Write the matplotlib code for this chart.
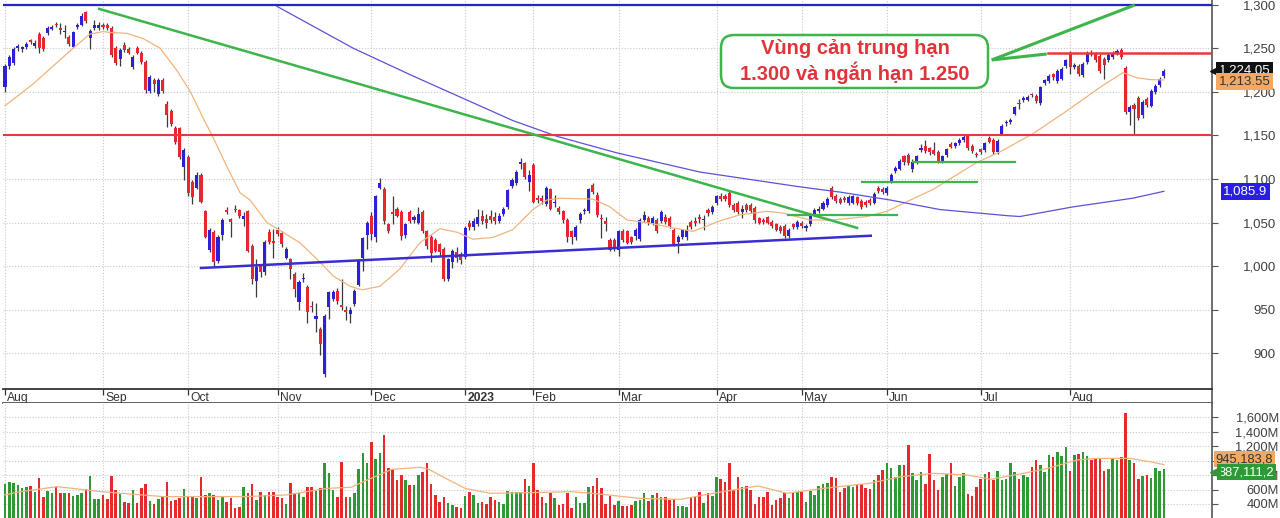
import numpy as np
import matplotlib
matplotlib.use("Agg")
import matplotlib.pyplot as plt
import matplotlib.transforms as mtransforms
from matplotlib.patches import FancyBboxPatch

plt.rcParams['font.family'] = ['Liberation Sans', 'DejaVu Sans']

# ---- data ----
MONTH_POS = [0, 23, 43, 64, 86, 108, 124, 144, 167, 187, 207, 229, 250]
MONTH_LBL = ["Aug", "Sep", "Oct", "Nov", "Dec", "2023", "Feb", "Mar", "Apr", "May", "Jun", "Jul", "Aug"]

opens = [
    1206, 1230, 1233, 1250, 1249, 1251, 1259, 1252, 1266, 1262, 1267, 1272, 1278, 1272, 1268, 1263, 1251, 1274, 1277, 1291, 1262, 1273, 1273,  # Aug
    1277, 1277, 1273, 1250, 1238, 1254, 1249, 1228, 1250, 1245, 1234, 1201, 1214, 1197, 1214, 1186, 1178, 1159, 1158, 1114,  # Sep
    1125, 1097, 1090, 1105, 1063, 1019, 1039, 1006, 1036, 1064, 1054, 1066, 1064, 1054, 1063, 1023, 983, 1000, 993, 1039, 1028,  # Oct
    1042, 1038, 1010, 1008, 991, 959, 985, 976, 955, 940, 928, 877, 953, 963, 972, 956, 950, 945, 957, 979, 1010, 1036,  # Nov
    1058, 1033, 1090, 1089, 1048, 1062, 1066, 1062, 1036, 1062, 1053, 1050, 1062, 1040, 1034, 1030, 1025, 1020, 985, 1005, 1016, 1014,  # Dec
    1011, 1050, 1045, 1048, 1058, 1054, 1058, 1056, 1052, 1060, 1068, 1092, 1095, 1117, 1118, 1097,  # Jan
    1116, 1078, 1078, 1071, 1088, 1072, 1067, 1063, 1053, 1040, 1033, 1053, 1063, 1063, 1093, 1082, 1055, 1052, 1030, 1030,  # Feb
    1019, 1040, 1040, 1033, 1035, 1031, 1053, 1055, 1050, 1053, 1052, 1057, 1055, 1042, 1028, 1033, 1033, 1051, 1052, 1057, 1053, 1065, 1062,  # Mar
    1073, 1081, 1081, 1084, 1070, 1073, 1062, 1070, 1070, 1067, 1055, 1053, 1056, 1051, 1048, 1045, 1046, 1035, 1048,  # Apr
    1045, 1050, 1044, 1048, 1060, 1063, 1066, 1070, 1090, 1081, 1077, 1078, 1072, 1073, 1079, 1075, 1074, 1076, 1073, 1090,  # May
    1089, 1084, 1097, 1109, 1112, 1126, 1128, 1112, 1119, 1133, 1138, 1135, 1133, 1131, 1120, 1127, 1140, 1138, 1141, 1145, 1150, 1138,  # Jun
    1128, 1134, 1133, 1147, 1145, 1131, 1152, 1164, 1165, 1175, 1187, 1190, 1191, 1197, 1195, 1187, 1210, 1212, 1220, 1212, 1215,  # Jul
    1229, 1244, 1228, 1230, 1219, 1234, 1245, 1244, 1241, 1238, 1236, 1240, 1244, 1248, 1227, 1177, 1185, 1193, 1173, 1192, 1184, 1200, 1208, 1218,  # Aug
]
highs = [
    1232, 1242, 1251, 1255, 1253, 1257, 1261, 1259, 1268, 1264, 1275, 1276, 1280, 1279, 1276, 1265, 1270, 1279, 1290, 1293, 1272, 1282, 1280,
    1279, 1279, 1275, 1252, 1250, 1257, 1251, 1242, 1252, 1247, 1236, 1219, 1216, 1216, 1216, 1189, 1180, 1161, 1160, 1135,
    1127, 1099, 1108, 1107, 1065, 1044, 1041, 1036, 1055, 1068, 1055, 1070, 1066, 1062, 1065, 1025, 1008, 1003, 1030, 1043, 1043,
    1045, 1040, 1022, 1010, 993, 984, 992, 978, 960, 958, 930, 945, 972, 973, 975, 985, 955, 953, 974, 1008, 1034, 1052,
    1062, 1082, 1101, 1091, 1050, 1080, 1068, 1064, 1050, 1064, 1059, 1068, 1064, 1042, 1036, 1032, 1027, 1022, 1010, 1020, 1022, 1016,
    1046, 1053, 1055, 1066, 1064, 1060, 1064, 1062, 1061, 1068, 1089, 1101, 1110, 1124, 1120, 1110,
    1118, 1082, 1082, 1092, 1090, 1082, 1069, 1065, 1055, 1042, 1047, 1062, 1067, 1090, 1096, 1085, 1060, 1056, 1032, 1032,
    1042, 1043, 1042, 1035, 1044, 1055, 1063, 1058, 1058, 1055, 1064, 1060, 1058, 1044, 1036, 1043, 1047, 1053, 1056, 1060, 1059, 1067, 1070,
    1082, 1084, 1083, 1086, 1072, 1075, 1070, 1072, 1072, 1069, 1057, 1055, 1058, 1053, 1050, 1047, 1048, 1044, 1050,
    1053, 1052, 1048, 1061, 1067, 1069, 1075, 1079, 1092, 1083, 1079, 1080, 1082, 1082, 1081, 1077, 1076, 1078, 1085, 1092,
    1091, 1092, 1107, 1115, 1123, 1128, 1130, 1123, 1128, 1140, 1145, 1137, 1143, 1133, 1128, 1136, 1142, 1143, 1147, 1150, 1152, 1140,
    1131, 1136, 1143, 1149, 1147, 1146, 1163, 1168, 1170, 1184, 1192, 1195, 1196, 1199, 1197, 1207, 1215, 1220, 1222, 1226, 1228,
    1238, 1247, 1233, 1232, 1234, 1247, 1248, 1246, 1243, 1240, 1244, 1247, 1249, 1250, 1229, 1185, 1187, 1195, 1191, 1194, 1203, 1209, 1217, 1226,
]
lows = [
    1200, 1226, 1231, 1247, 1246, 1249, 1255, 1250, 1244, 1247, 1265, 1271, 1274, 1266, 1262, 1253, 1250, 1272, 1275, 1279, 1249, 1271, 1271,
    1272, 1271, 1240, 1231, 1229, 1246, 1243, 1226, 1243, 1232, 1199, 1199, 1200, 1195, 1199, 1160, 1161, 1140, 1123, 1099,
    1080, 1071, 1088, 1072, 1032, 1016, 999, 1004, 1030, 1060, 1034, 1062, 1055, 1046, 1016, 980, 965, 988, 990, 1026, 1010,
    1035, 1022, 1008, 985, 965, 950, 982, 935, 948, 925, 898, 873, 940, 960, 957, 950, 938, 935, 955, 977, 995, 1020,
    1030, 1028, 1088, 1048, 1038, 1048, 1056, 1030, 1032, 1050, 1050, 1048, 1038, 1020, 1005, 1016, 1012, 983, 983, 998, 1005, 1003,
    1008, 1042, 1042, 1046, 1049, 1044, 1050, 1048, 1050, 1058, 1066, 1090, 1093, 1112, 1100, 1086,
    1072, 1072, 1071, 1069, 1064, 1068, 1060, 1050, 1028, 1025, 1030, 1050, 1060, 1061, 1083, 1057, 1032, 1040, 1017, 1017,
    1012, 1028, 1025, 1026, 1030, 1029, 1051, 1047, 1047, 1038, 1050, 1049, 1044, 1023, 1015, 1031, 1030, 1043, 1046, 1050, 1042, 1058, 1060,
    1070, 1075, 1075, 1068, 1062, 1060, 1055, 1062, 1061, 1050, 1048, 1048, 1048, 1044, 1040, 1038, 1032, 1032, 1043,
    1043, 1044, 1040, 1046, 1058, 1061, 1064, 1068, 1077, 1073, 1071, 1074, 1070, 1071, 1070, 1066, 1068, 1070, 1071, 1084,
    1083, 1082, 1095, 1107, 1110, 1116, 1116, 1108, 1117, 1131, 1130, 1128, 1127, 1118, 1118, 1125, 1135, 1136, 1139, 1143, 1133, 1130,
    1125, 1129, 1131, 1141, 1129, 1129, 1150, 1161, 1163, 1173, 1180, 1188, 1189, 1194, 1187, 1185, 1208, 1210, 1214, 1210, 1213,
    1227, 1220, 1226, 1218, 1217, 1232, 1241, 1234, 1222, 1215, 1234, 1238, 1242, 1238, 1175, 1162, 1150, 1168, 1170, 1182, 1182, 1198, 1206, 1216,
]
closes = [
    1230, 1240, 1249, 1253, 1251, 1255, 1257, 1256, 1250, 1249, 1273, 1274, 1276, 1271, 1270, 1255, 1269, 1277, 1287, 1281, 1270, 1276, 1276,
    1274, 1273, 1242, 1233, 1248, 1248, 1245, 1240, 1245, 1234, 1202, 1217, 1209, 1214, 1201, 1173, 1163, 1142, 1125, 1133,
    1084, 1079, 1105, 1074, 1034, 1042, 1005, 1034, 1053, 1062, 1051, 1064, 1058, 1058, 1018, 985, 999, 993, 1028, 1028, 1027,
    1037, 1025, 1020, 997, 974, 982, 987, 948, 953, 943, 911, 943, 970, 970, 960, 953, 947, 950, 972, 1006, 1032, 1050,
    1037, 1080, 1095, 1052, 1040, 1060, 1058, 1035, 1048, 1052, 1057, 1060, 1040, 1023, 1015, 1018, 1016, 985, 1008, 1018, 1010, 1007,
    1044, 1045, 1052, 1056, 1052, 1050, 1053, 1052, 1058, 1066, 1087, 1099, 1108, 1119, 1102, 1105,
    1074, 1076, 1075, 1090, 1066, 1074, 1062, 1053, 1033, 1033, 1045, 1060, 1064, 1088, 1085, 1059, 1054, 1048, 1019, 1020,
    1040, 1030, 1027, 1028, 1042, 1053, 1059, 1050, 1055, 1040, 1062, 1051, 1046, 1025, 1034, 1041, 1042, 1045, 1050, 1054, 1054, 1061, 1068,
    1080, 1077, 1077, 1070, 1065, 1062, 1066, 1064, 1063, 1053, 1050, 1051, 1050, 1046, 1042, 1040, 1035, 1042, 1045,
    1051, 1046, 1045, 1059, 1065, 1066, 1072, 1077, 1079, 1075, 1073, 1076, 1079, 1080, 1072, 1068, 1070, 1072, 1083, 1086,
    1085, 1090, 1105, 1113, 1121, 1120, 1118, 1120, 1126, 1136, 1132, 1131, 1129, 1120, 1126, 1134, 1137, 1141, 1145, 1148, 1135, 1132,
    1127, 1131, 1141, 1143, 1131, 1144, 1161, 1165, 1168, 1182, 1186, 1193, 1194, 1196, 1189, 1205, 1213, 1218, 1217, 1224, 1226,
    1236, 1228, 1231, 1220, 1232, 1245, 1243, 1236, 1224, 1231, 1242, 1244, 1247, 1240, 1177, 1182, 1180, 1170, 1188, 1185, 1201, 1207, 1215, 1224.05,
]
volumes = [  # million shares
    677, 709, 686, 663, 617, 640, 649, 571, 760, 502, 580, 557, 640, 557, 557, 548, 511, 525, 548, 603, 788, 465, 465,
    520, 470, 790, 600, 540, 430, 420, 600, 410, 620, 680, 440, 400, 470, 500, 700, 440, 460, 480, 610,
    502, 502, 479, 778, 525, 548, 525, 455, 492, 432, 479, 340, 363, 640, 548, 677, 455, 571, 525, 571, 571,
    502, 479, 400, 686, 548, 548, 502, 640, 640, 585, 620, 963, 825, 594, 502, 986, 502, 492, 548, 880, 1101, 963,
    1263, 1018, 1111, 1355, 894, 880, 732, 802, 732, 663, 663, 802, 848, 963, 677, 525, 432, 502, 409, 386, 363, 340,
    511, 571, 525, 409, 432, 400, 502, 455, 432, 400, 585, 571, 571, 571, 746, 649,
    972, 594, 502, 409, 548, 478, 386, 400, 548, 340, 492, 409, 418, 631, 649, 755, 617, 400, 511, 386,
    446, 372, 372, 386, 446, 455, 548, 446, 525, 548, 492, 492, 455, 465, 372, 372, 363, 502, 502, 571, 409, 548, 511,
    778, 746, 700, 963, 594, 778, 640, 649, 594, 400, 502, 502, 571, 386, 455, 478, 548, 478, 571,
    571, 571, 432, 585, 525, 649, 677, 686, 778, 755, 571, 617, 649, 631, 663, 672, 617, 603, 732, 802,
    871, 963, 894, 778, 940, 940, 1217, 834, 732, 848, 677, 1092, 732, 594, 778, 811, 963, 649, 769, 834, 538, 515,
    640, 742, 811, 848, 732, 862, 732, 742, 972, 848, 742, 802, 778, 908, 1009, 940, 848, 1078, 1046, 1125, 1060,
    1194, 862, 1078, 1092, 1125, 1060, 1009, 1018, 1032, 862, 880, 1032, 1009, 1050, 1655, 1009, 972, 742, 788, 802, 755, 894, 862, 887.1112,
]

# moving averages (session index, value)
ma20_x = [0, 6.6, 16, 19.9, 23, 24.6, 28.6, 32.4, 36.4, 40.4, 43.4, 46.5, 48.8, 52.1, 55.2, 57.5, 61.5, 62.9,
          69.2, 73.9, 77, 81, 83.8, 88, 92.7, 97.4, 102.1, 106.1, 109.8, 114.5, 119.2, 123.9, 127.2, 130.3,
          138, 142, 146, 150.7, 156.8, 161.5, 167.8, 172.5, 178.8, 182.6, 188.9, 194.3, 202.3, 207, 211.7,
          217.8, 224.1, 228.1, 233.5, 241.3, 249.2, 257, 262.4, 265.7, 268.7, 272]
ma20_y = [1184, 1209, 1250, 1266, 1269, 1268, 1267, 1261, 1250, 1224, 1201, 1170, 1148, 1114, 1084, 1076, 1050, 1046,
          1027, 1005, 989, 977, 973, 977, 997, 1027, 1043, 1039, 1031, 1033, 1042, 1065, 1076, 1078,
          1077, 1068, 1053, 1050, 1044, 1040, 1052, 1059, 1063, 1061, 1053, 1053, 1057, 1063, 1074,
          1088, 1107, 1119, 1131, 1152, 1178, 1205, 1222, 1216, 1214, 1213.55]
ma200_x = [63.8, 81.7, 95.8, 119.2, 129.5, 143.6, 163.1, 186.6, 196, 207.7, 219.4, 235.2, 238.2, 250.6, 264.7, 272]
ma200_y = [1298, 1250, 1218, 1167, 1149, 1130, 1108, 1091, 1085, 1076, 1065, 1058, 1057, 1068, 1078, 1085.9]
vma_x = [0, 3.5, 12.2, 22.8, 37.1, 56.3, 66, 75.6, 81.2, 85, 90.8, 97.4, 99.5, 104.2, 108, 113.8, 123.4, 132.8,
         137.8, 149, 158.6, 166.2, 176.7, 183.5, 192.2, 202.8, 210.3, 218, 225.8, 231.4, 239.1, 244.8, 251.6,
         256.3, 264, 268.7, 272]
vma_y = [525, 570, 640, 570, 502, 502, 525, 617, 631, 732, 880, 908, 880, 732, 617, 548, 557, 571,
         548, 478, 465, 548, 650, 548, 617, 686, 778, 825, 802, 742, 825, 894, 1009,
         1032, 1032, 986, 945.1838]

# analyst lines (session index, price)
RES_TOP = 1300
RES_MID = 1150
RES_SHORT = (244.8, 1244)
DOWN_TREND = ([22.1, 200], [1295, 1044])
UP_SUPPORT = ([46, 203.2], [998, 1035])
GREEN_STEPS = [((183.8, 209.3), 1059), ((201.1, 228.1), 1097), ((213.1, 237.0), 1119.5)]
CALLOUT_PTR = [([231.6, 265.2], [1236.5, 1299.5]), ([231.6, 244.5], [1236.5, 1243.3])]

# ---- figure ----
W, H = 1280, 518
fig = plt.figure(figsize=(W / 100, H / 100), dpi=100)
fig.patch.set_facecolor("white")


def box(l, t, r, b):
    return [l / W, 1 - b / H, (r - l) / W, (b - t) / H]


ax = fig.add_axes(box(3, 0, 1212, 389))
axm = fig.add_axes(box(3, 389, 1212, 403))
axv = fig.add_axes(box(3, 403, 1212, 518))

XL = (-0.47, 283.3)
BLUE = "#2d20d6"
RED = "#e8262d"
GREEN = "#3db54a"
GRID = dict(color="#c8c8c8", lw=0.8, ls=(0, (1, 1.6)))
n = len(closes)
x = np.arange(n)
o, h, l, c = map(np.array, (opens, highs, lows, closes))
up = c >= o

# price panel
for a in (ax, axm, axv):
    a.set_xlim(*XL)
    a.set_xticks(MONTH_POS)
    a.tick_params(axis="x", length=0, labelbottom=False)
    for s in ("top", "left", "bottom"):
        a.spines[s].set_visible(False)
    a.spines["right"].set_color("#555555")
    a.spines["right"].set_linewidth(1.2)

ax.set_ylim(859.3, 1305.2)
ax.set_yticks(range(900, 1301, 50))
ax.set_yticklabels([f"{v:,}" for v in range(900, 1301, 50)])
ax.grid(True, **GRID)
ax.set_axisbelow(True)

ax.vlines(x, l, h, color="#3a3a3a", lw=0.9, zorder=3)
body_bot = np.minimum(o, c)
body_h = np.maximum(np.abs(c - o), 1.6)
ax.bar(x, body_h, bottom=body_bot, width=0.72, color=np.where(up, BLUE, RED), zorder=4)

ax.plot(ma20_x, ma20_y, color="#f2b47c", lw=0.9, zorder=5)
ax.plot(ma200_x, ma200_y, color="#5a52d8", lw=0.9, zorder=5)

ax.axhline(RES_TOP, color="#2424c8", lw=1.6, zorder=6)
ax.axhline(RES_MID, color="#e63a3a", lw=1.5, zorder=6)
ax.plot([RES_SHORT[0], XL[1]], [RES_SHORT[1]] * 2, color="#e63a3a", lw=1.8, zorder=6)
ax.plot(*DOWN_TREND, color=GREEN, lw=1.8, zorder=6)
ax.plot(*UP_SUPPORT, color="#3a2ed2", lw=1.8, zorder=6)
for (x0, x1), yv in GREEN_STEPS:
    ax.plot([x0, x1], [yv, yv], color=GREEN, lw=1.6, zorder=6)
for px_, py_ in CALLOUT_PTR:
    ax.plot(px_, py_, color=GREEN, lw=2.2, zorder=7, solid_capstyle="butt")

ax.yaxis.tick_right()
ax.tick_params(axis="y", length=4, color="#555555", labelsize=9.5, labelcolor="#404040", pad=42)
for t in ax.get_yticklabels():
    t.set_horizontalalignment("right")

# callout box (image pixel coordinates)
pxt = mtransforms.Affine2D().scale(1 / W, -1 / H).translate(0, 1) + fig.transFigure
fig.patches.append(FancyBboxPatch((721, 35), 267, 53, boxstyle="round,pad=0,rounding_size=13",
                                  transform=pxt, fc="white", ec=GREEN, lw=1.8, zorder=8))
fig.text(855 / W, 1 - 49 / H, "Vùng cản trung hạn", ha="center", va="center",
         fontsize=14.5, fontweight="bold", color="#e0343a", zorder=9)
fig.text(855 / W, 1 - 73 / H, "1.300 và ngắn hạn 1.250", ha="center", va="center",
         fontsize=14.5, fontweight="bold", color="#e0343a", zorder=9)


def tag(a, y, text, fc, tc, x0=1.0055, arrow=False):
    tr = a.get_yaxis_transform()
    a.text(x0, y, text, transform=tr, ha="left", va="center", fontsize=9.5, color=tc,
           bbox=dict(boxstyle="square,pad=0.18", fc=fc, ec="none"), clip_on=False, zorder=20)
    if arrow:
        a.plot([1.0022], [y], marker="<", ms=7, color=fc, transform=tr, clip_on=False, zorder=20)


tag(ax, closes[-1], f"{closes[-1]:,.2f}", "#111111", "white", arrow=True)
tag(ax, ma20_y[-1] - 2, f"{ma20_y[-1]:,.2f}", "#f4a862", "#333333")
tag(ax, ma200_y[-1], f"{ma200_y[-1]:,.1f}", "#2a1ee6", "white", x0=1.009)

# month strip
axm.set_ylim(0, 1)
axm.set_yticks([])
axm.spines["top"].set_visible(True)
axm.spines["bottom"].set_visible(True)
axm.spines["top"].set_color("#333333")
axm.spines["bottom"].set_color("#555555")
axm.spines["top"].set_linewidth(1.3)
axm.spines["bottom"].set_linewidth(1.3)
axm.vlines(MONTH_POS, 0.55, 1.0, color="#333333", lw=0.9)
for p, lbl in zip(MONTH_POS, MONTH_LBL):
    axm.text(p + 0.5, 0.35, lbl, ha="left", va="center", fontsize=8.7, color="#333333",
             fontweight="bold" if lbl == "2023" else "normal")

# volume panel
vol = np.array(volumes)
axv.set_ylim(206, 1799)
axv.bar(x, vol, width=0.6, color=np.where(up, "#2f9a35", "#e42a2a"), zorder=3)
axv.plot(vma_x, vma_y, color="#f2b47c", lw=0.9, zorder=4)
vt = list(range(400, 1601, 200))
axv.set_yticks(vt)
# the 1,000M label sits under the value tags in the original, so it is left blank
axv.set_yticklabels(["" if v == 1000 else f"{v:,}M" for v in vt])
axv.yaxis.tick_right()
axv.tick_params(axis="y", length=4, color="#555555", labelsize=9.3, labelcolor="#404040", pad=44)
for t in axv.get_yticklabels():
    t.set_horizontalalignment("right")
axv.grid(True, **GRID)
axv.set_axisbelow(True)

# value tags on the volume scale (only the visible digits fit in the margin)
tv_ma = f"{vma_y[-1] * 1e6:,.0f}"[:9]
tv_last = f"{volumes[-1] * 1e6:,.0f}"[:9]
ytr = axv.get_yaxis_transform()
axv.annotate(tv_ma, xy=(1.003, vma_y[-1]), xycoords=ytr, xytext=(0, 4),
             textcoords="offset points", ha="left", va="center", fontsize=9.3, color="#333333",
             bbox=dict(boxstyle="square,pad=0.15", fc="#f4a862", ec="none"), annotation_clip=False, zorder=20)
axv.annotate(tv_last, xy=(1.0055, volumes[-1]), xycoords=ytr, xytext=(0, -2.5),
             textcoords="offset points", ha="left", va="center", fontsize=9.3, color="white",
             bbox=dict(boxstyle="square,pad=0.15", fc="#2f9a35", ec="none"), annotation_clip=False, zorder=21)
axv.plot([1.0022], [volumes[-1] - 45], marker="<", ms=7, color="#2f9a35",
         transform=ytr, clip_on=False, zorder=21)

fig.savefig("out.png", dpi=100, facecolor="white")
